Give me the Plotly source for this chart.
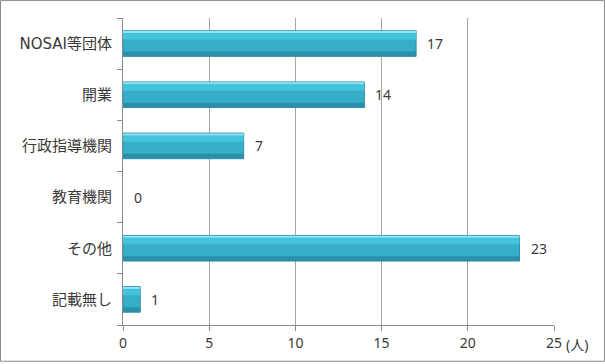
import plotly.graph_objects as go

# Data (listed top to bottom as in the chart)
categories = ["NOSAI等団体", "開業", "行政指導機関", "教育機関", "その他", "記載無し"]
values = [17, 14, 7, 0, 23, 1]
x_ticks = [0, 5, 10, 15, 20, 25]
x_unit = "(人)"

cats = categories[::-1]
vals = values[::-1]

W, H = 605, 364
L, R, T, B = 123, 51, 18, 37
pw, ph = W - L - R, H - T - B

num_font = "Noto Sans, Noto Sans CJK JP, sans-serif"
lab_font = "DejaVu Sans, Noto Sans CJK JP, sans-serif"
txt_color = "#3A3A3A"

edge_widths = [0 if v == 0 else 1 for v in vals]

fig = go.Figure()
# main bar body
fig.add_trace(go.Bar(y=cats, x=vals, orientation="h", width=0.5, offset=-0.25,
                     marker=dict(color="#36AECA", line=dict(color="#2C8DA6", width=edge_widths)),
                     hoverinfo="skip"))
# darker bottom strip
fig.add_trace(go.Bar(y=cats, x=vals, orientation="h", width=0.09, offset=-0.245,
                     marker=dict(color="#2A90AA", line=dict(width=0)), hoverinfo="skip"))
# light upper band
fig.add_trace(go.Bar(y=cats, x=vals, orientation="h", width=0.12, offset=0.08,
                     marker=dict(color="#45C3DD", line=dict(width=0)), hoverinfo="skip"))
# bright top edge
fig.add_trace(go.Bar(y=cats, x=vals, orientation="h", width=0.04, offset=0.205,
                     marker=dict(color="#8FE6F4", line=dict(width=0)), hoverinfo="skip"))

annotations = []
for c, v in zip(cats, vals):
    annotations.append(dict(x=v, y=c, xref="x", yref="y", text=str(v), showarrow=False,
                            xanchor="left", yanchor="middle", xshift=9,
                            font=dict(family=num_font, size=14, color=txt_color)))
annotations.append(dict(x=x_ticks[-1], y=0, xref="x", yref="paper", text=x_unit,
                        showarrow=False, xanchor="left", yanchor="middle", xshift=10, yshift=-19,
                        font=dict(family=num_font, size=14, color=txt_color)))

def xp(px):
    return (px - L) / pw

def yp(py):
    return (H - B - py) / ph

fig.update_layout(
    width=W, height=H,
    margin=dict(l=L, r=R, t=T, b=B, pad=0),
    barmode="overlay",
    showlegend=False,
    plot_bgcolor="white", paper_bgcolor="white",
    font=dict(family=num_font, size=14, color=txt_color),
    xaxis=dict(range=[0, 25], tickvals=x_ticks, ticktext=[str(t) for t in x_ticks],
               showgrid=True, gridcolor="#A6A6A6", gridwidth=1,
               showline=True, linecolor="#8C8C8C", linewidth=1,
               ticks="outside", ticklen=5, tickcolor="#8C8C8C",
               zeroline=False, fixedrange=True,
               tickfont=dict(family=num_font, size=14, color=txt_color)),
    yaxis=dict(type="category", categoryorder="array", categoryarray=cats,
               range=[-0.5, len(cats) - 0.5],
               showgrid=False, showline=True, linecolor="#8C8C8C", linewidth=1,
               ticks="outside", ticklen=5, tickcolor="#8C8C8C", tickson="boundaries",
               ticklabelstandoff=7,
               fixedrange=True,
               tickfont=dict(family=lab_font, size=15, color=txt_color)),
    annotations=annotations,
    shapes=[dict(type="rect", xref="paper", yref="paper",
                 x0=xp(0.5), x1=xp(W - 0.5), y0=yp(H - 0.5), y1=yp(0.5),
                 line=dict(color="#8C8C8C", width=1), layer="above")],
)

fig.write_html("out.html")
